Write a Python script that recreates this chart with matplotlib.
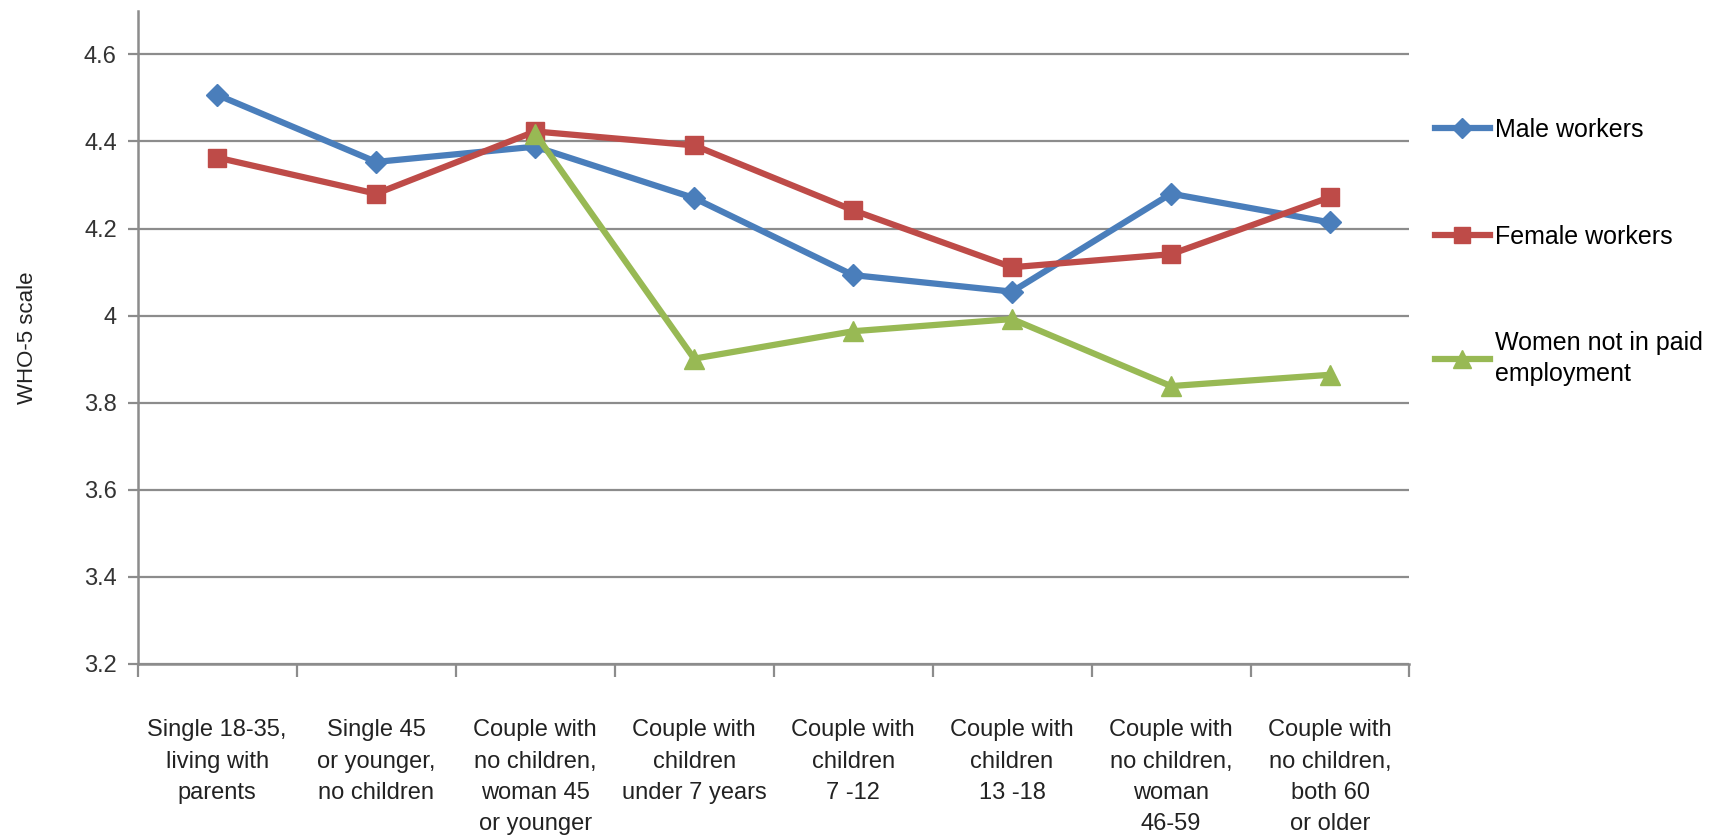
import matplotlib
matplotlib.use('Agg')
import numpy as np
from matplotlib import pyplot as plt

categories = ['Single 18-35,\nliving with\nparents',
              'Single 45\nor younger,\nno children',
              'Couple with\nno children,\nwoman 45\nor younger',
              'Couple with\nchildren\nunder 7 years',
              'Couple with\nchildren\n7 -12',
              'Couple with\nchildren\n13 -18',
              'Couple with\nno children,\nwoman\n46-59',
              'Couple with\nno children,\nboth 60\nor older']
male = [4.507, 4.353, 4.388, 4.270, 4.093, 4.055, 4.280, 4.214]
female = [4.363, 4.280, 4.423, 4.391, 4.242, 4.111, 4.141, 4.272]
women_unpaid = [np.nan, np.nan, 4.418, 3.901, 3.964, 3.992, 3.838, 3.864]
yticks = [3.2, 3.4, 3.6, 3.8, 4.0, 4.2, 4.4, 4.6]
ytick_labels = ['3.2', '3.4', '3.6', '3.8', '4', '4.2', '4.4', '4.6']

plt.rcParams['font.family'] = ['Liberation Sans', 'DejaVu Sans']

fig = plt.figure(figsize=(17.21, 8.35), dpi=100)
ax = fig.add_axes([0.080, 0.205, 0.739, 0.782])

x = np.arange(len(categories))
grey = '#8c8c8c'

ax.plot(x, male, color='#4a7ebb', lw=4.5, marker='D', ms=11, label='Male workers', zorder=3)
ax.plot(x, female, color='#be4b48', lw=4.5, marker='s', ms=13, label='Female workers', zorder=3)
ax.plot(x, women_unpaid, color='#98b954', lw=4.5, marker='^', ms=14,
        label='Women not in paid\nemployment', zorder=4)

ax.set_xlim(-0.5, len(categories) - 0.5)
ax.set_ylim(3.2, 4.7)
ax.set_yticks(yticks)
ax.set_yticklabels(ytick_labels, fontsize=17, color='#333333')
ax.yaxis.grid(True, color=grey, lw=1.6)
ax.set_axisbelow(True)

# category labels centred, tick marks between categories
ax.set_xticks(np.arange(len(categories) + 1) - 0.5)
ax.set_xticklabels([])
ax.set_xticks(x, minor=True)
ax.set_xticklabels(categories, minor=True, fontsize=17, color='#222222', va='top',
                   linespacing=1.55)
ax.tick_params(axis='x', which='minor', length=0, pad=40)
ax.tick_params(axis='x', which='major', length=9, width=1.6, color=grey)
ax.tick_params(axis='y', length=7, width=1.6, color=grey, pad=8)

for s in ['top', 'right']:
    ax.spines[s].set_visible(False)
for s in ['left', 'bottom']:
    ax.spines[s].set_color(grey)
    ax.spines[s].set_linewidth(1.8)

ax.set_ylabel('WHO-5 scale', fontsize=16, color='#222222', labelpad=33)

leg = ax.legend(loc='upper left', bbox_to_anchor=(1.002, 0.870), frameon=False, fontsize=18,
                handlelength=2.2, labelspacing=3.3, handletextpad=0.22, markerscale=0.9)
for t in leg.get_texts():
    t.set_linespacing(1.35)

fig.savefig('out.png', dpi=100)
